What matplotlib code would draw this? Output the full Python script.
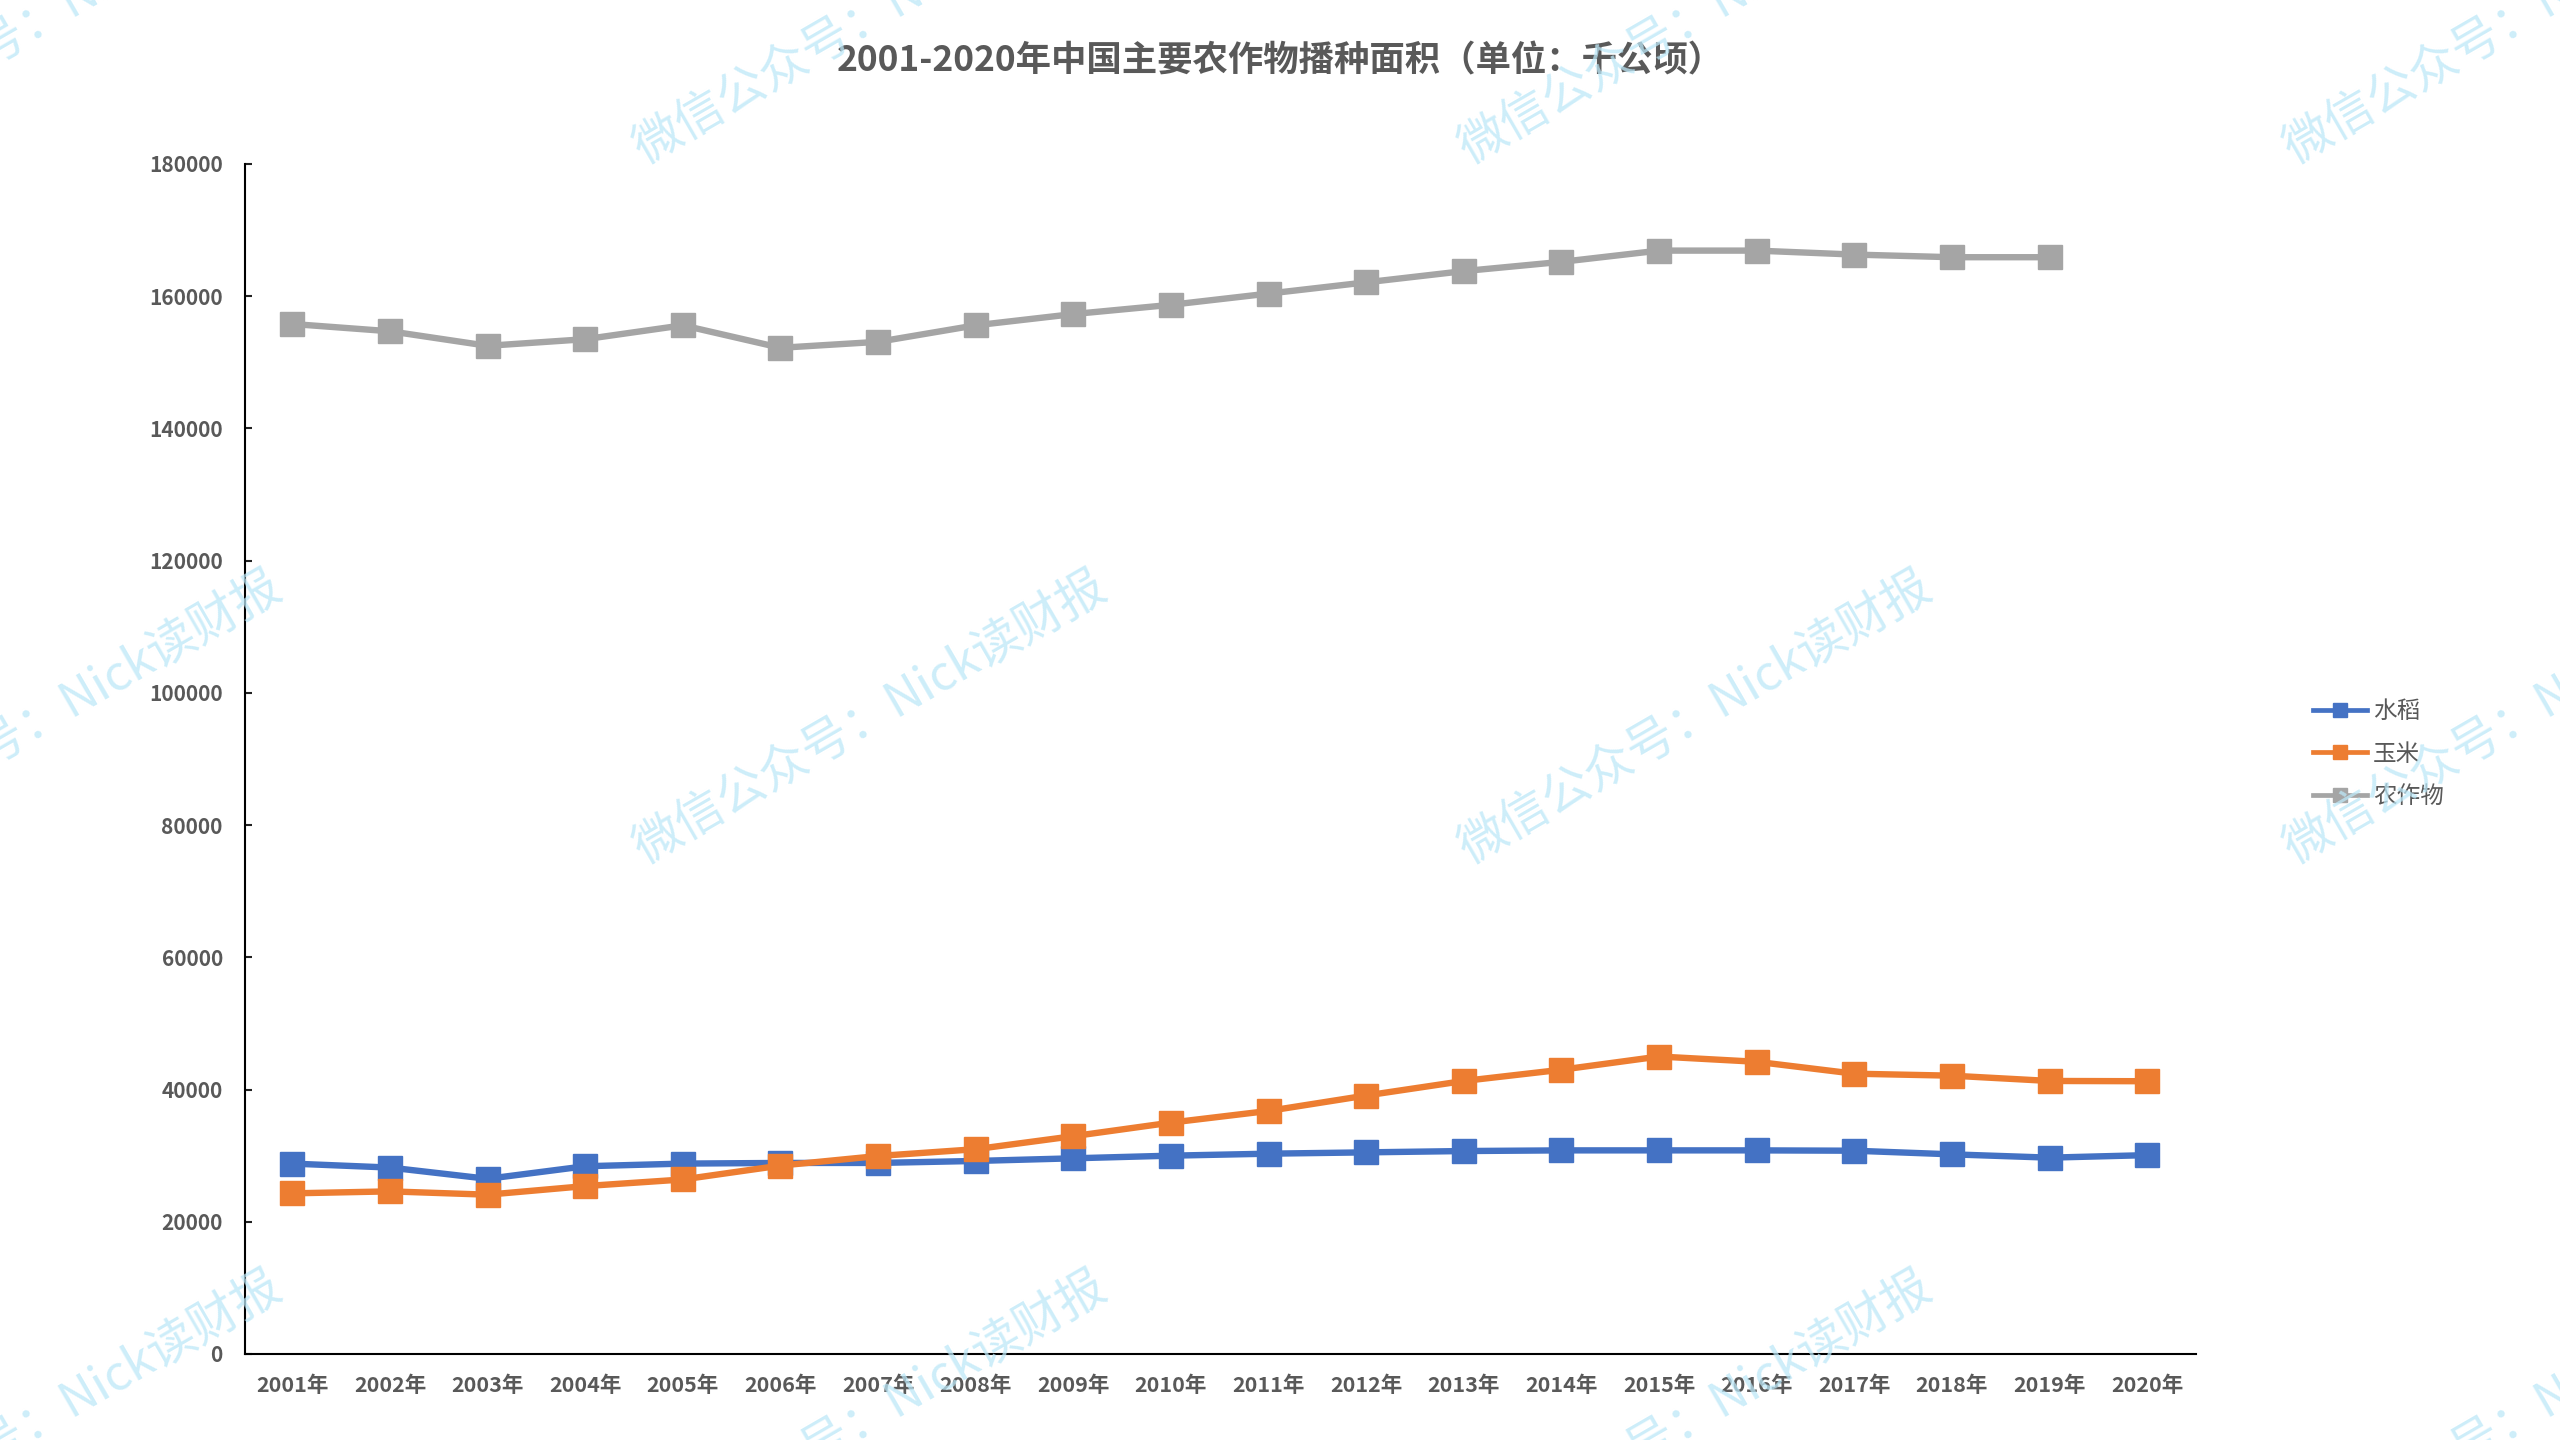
#2001-2020 sown area of main crops in China
import matplotlib
matplotlib.use("Agg")
from matplotlib import pyplot as plt

plt.rcParams['font.family'] = ['Noto Sans CJK SC', 'DejaVu Sans']

years = ["2001年", "2002年", "2003年", "2004年", "2005年", "2006年", "2007年", "2008年", "2009年", "2010年",
         "2011年", "2012年", "2013年", "2014年", "2015年", "2016年", "2017年", "2018年", "2019年", "2020年"]
rice = [28800, 28200, 26500, 28400, 28800, 28900, 28900, 29200, 29600, 30000,
        30300, 30500, 30700, 30800, 30800, 30800, 30750, 30200, 29700, 30080]
maize = [24300, 24600, 24100, 25400, 26400, 28500, 29950, 30980, 32950, 35000,
         36770, 39100, 41300, 43000, 45000, 44200, 42400, 42100, 41300, 41260]
# no value for 2020
crops = [155800, 154700, 152500, 153500, 155600, 152200, 153100, 155600, 157300, 158700,
         160400, 162100, 163800, 165200, 166900, 166900, 166300, 165900, 165900]
yticks = [0, 20000, 40000, 60000, 80000, 100000, 120000, 140000, 160000, 180000]

title = "2001-2020年中国主要农作物播种面积（单位：千公顷）"
watermark = "微信公众号：Nick读财报"
text_gray = "#595959"

W, H = 2560, 1440
fig = plt.figure(figsize=(W / 100, H / 100), dpi=100, facecolor="white")
ax = fig.add_axes([245 / W, 1 - 1354 / H, (2196 - 245) / W, (1354 - 164) / H])

x = list(range(len(years)))
ax.plot(x, rice, color="#4472C4", lw=4.6, marker="s", ms=17.5, label="水稻", zorder=3)
ax.plot(x, maize, color="#ED7D31", lw=4.6, marker="s", ms=17.5, label="玉米", zorder=4)
ax.plot(x[:len(crops)], crops, color="#A5A5A5", lw=4.6, marker="s", ms=17.5, label="农作物", zorder=3)

ax.set_xlim(-0.485, len(years) - 0.5)
ax.set_ylim(0, 180000)
ax.set_xticks(x)
ax.set_xticklabels(years, fontsize=15.5, fontweight="bold", color=text_gray)
ax.set_yticks(yticks)
ax.set_yticklabels([str(v) for v in yticks], fontsize=15, fontweight="bold", color=text_gray)
ax.tick_params(axis="x", length=0, pad=15)
ax.tick_params(axis="y", direction="in", length=5, width=1.5, pad=16, color="#222222")
ax.spines["top"].set_visible(False)
ax.spines["right"].set_visible(False)
ax.spines["left"].set_linewidth(1.5)
ax.spines["bottom"].set_linewidth(1.5)

fig.text(1280 / W, 1 - 61 / H, title, fontsize=25.5, fontweight="bold", color=text_gray, ha="center", va="center")

leg = ax.legend(loc="upper left", bbox_to_anchor=(2313 / W, 1 - 700 / H), bbox_transform=fig.transFigure,
                frameon=False, fontsize=17, labelcolor=text_gray, handlelength=2.3, handletextpad=0.25,
                labelspacing=0.83, markerscale=0.6, borderpad=0, borderaxespad=0)
for line in leg.get_lines():
    line.set_linewidth(3.4)

# repeated watermark over the whole picture
for cx in [45, 870, 1695, 2520]:
    for cy in [18, 718, 1418]:
        fig.text(cx / W, 1 - cy / H, watermark, fontsize=35, color="#BDE8F8", alpha=0.75, rotation=30,
                 rotation_mode="anchor", ha="center", va="center", zorder=10)

fig.savefig("out.png", dpi=100)
